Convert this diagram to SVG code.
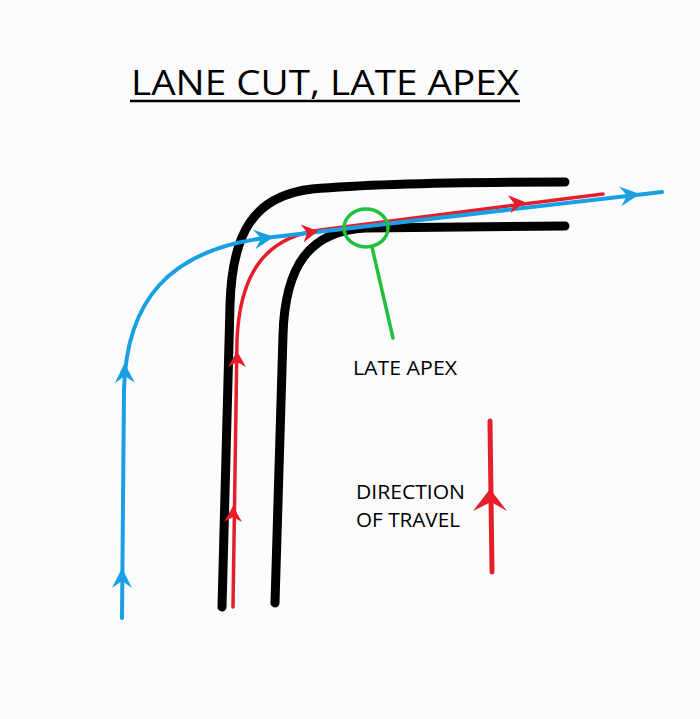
<svg xmlns="http://www.w3.org/2000/svg" xmlns:xlink="http://www.w3.org/1999/xlink" width="700" height="719" viewBox="0 0 700 719">
<style>
.road{fill:none;stroke:#000;stroke-width:9;stroke-linecap:round;stroke-linejoin:round}
.blue{fill:none;stroke:#1aa0e2;stroke-width:4;stroke-linecap:round}
.red{fill:none;stroke:#e51f2a;stroke-width:3.5;stroke-linecap:round}
.bh{fill:#1aa0e2}
.rh{fill:#e51f2a}
.lbl{font-family:"Open Sans","Noto Sans","Liberation Sans",sans-serif;fill:#000}
</style>
<defs>
<path id="ah" d="M0,0 L-20,-10 L-13,0 L-20,10 Z"/>
<path id="ahs" d="M0,0 L-16,-9 L-11,0 L-16,9 Z"/>
</defs>
<rect width="700" height="719" fill="#fcfcfe"/>
<g id="title">
<text class="lbl" x="325" y="95" font-size="34" text-anchor="middle" textLength="388" lengthAdjust="spacingAndGlyphs">LANE CUT, LATE APEX</text>
<line x1="130" y1="101" x2="520" y2="101" stroke="#000" stroke-width="2.5"/>
</g>
<g id="road">
<path class="road" d="M222,607 L230,305 C232,235 252,196 312,189 C380,183 480,182 565,182"/>
<path class="road" d="M275,603 L283,335 C285,265 310,231 365,228 L565,226"/>
</g>
<g id="connectors">
<path class="red" d="M233,607 L237,340 C240,270 268,237 320,230 L603,194"/>
<path class="blue" d="M122,618 L124,390 C126,300 170,250 265,238 L662,192"/>
<use href="#ah" class="bh" transform="translate(122,568) rotate(-90)"/>
<use href="#ah" class="bh" transform="translate(124.5,363) rotate(-91)"/>
<use href="#ah" class="bh" transform="translate(274,237) rotate(-7)"/>
<use href="#ah" class="bh" transform="translate(640,194) rotate(-7)"/>
<use href="#ahs" class="rh" transform="translate(237,351) rotate(-90)"/>
<use href="#ahs" class="rh" transform="translate(233,506) rotate(-90)"/>
<use href="#ahs" class="rh" transform="translate(318,231) rotate(-9)"/>
<use href="#ahs" class="rh" transform="translate(525,202) rotate(-8)"/>
</g>
<g id="apex">
<ellipse cx="366" cy="228" rx="22" ry="19" fill="none" stroke="#22c03c" stroke-width="3.5"/>
<line x1="372" y1="247" x2="393" y2="338" stroke="#22c03c" stroke-width="3.5" stroke-linecap="round"/>
<text class="lbl" x="353" y="375" font-size="20" textLength="104" lengthAdjust="spacingAndGlyphs">LATE APEX</text>
</g>
<g id="legend">
<text class="lbl" x="356" y="499" font-size="20" textLength="109" lengthAdjust="spacingAndGlyphs">DIRECTION</text>
<text class="lbl" x="356" y="527" font-size="20" textLength="104" lengthAdjust="spacingAndGlyphs">OF TRAVEL</text>
<line x1="490" y1="421" x2="492" y2="572" stroke="#e51f2a" stroke-width="5" stroke-linecap="round"/>
<path class="rh" d="M490,489 L507,511 L491,502 L473,511 Z"/>
</g>
</svg>
